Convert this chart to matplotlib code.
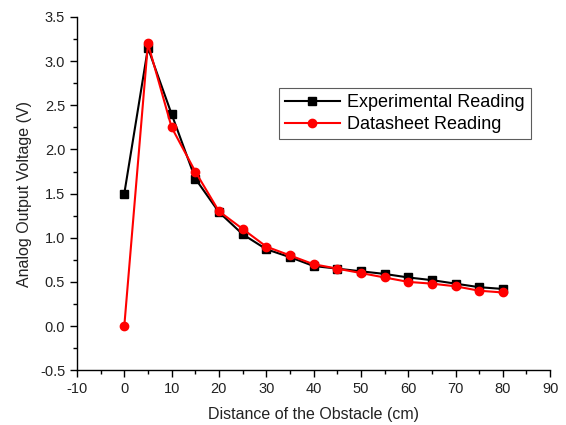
import matplotlib
matplotlib.use("Agg")
import matplotlib.pyplot as plt
from matplotlib.ticker import MultipleLocator

plt.rcParams['font.family'] = ['Liberation Sans', 'DejaVu Sans']
plt.rcParams['axes.unicode_minus'] = False

distance = [0, 5, 10, 15, 20, 25, 30, 35, 40, 45, 50, 55, 60, 65, 70, 75, 80]
experimental = [1.50, 3.15, 2.40, 1.67, 1.29, 1.04, 0.87, 0.78, 0.68, 0.65, 0.62, 0.59, 0.55, 0.52, 0.48, 0.44, 0.42]
datasheet = [0.00, 3.20, 2.25, 1.75, 1.30, 1.10, 0.90, 0.80, 0.70, 0.65, 0.60, 0.55, 0.50, 0.48, 0.45, 0.40, 0.38]

fig = plt.figure(figsize=(5.66, 4.25), dpi=100)
ax = fig.add_axes([0.136, 0.129, 0.836, 0.831])

ax.plot(distance, experimental, color='black', marker='s', markersize=5.5, linewidth=1.5,
        label='Experimental Reading')
ax.plot(distance, datasheet, color='red', marker='o', markersize=6, linewidth=1.5,
        label='Datasheet Reading')

ax.set_xlim(-10, 90)
ax.set_ylim(-0.5, 3.5)
ax.xaxis.set_major_locator(MultipleLocator(10))
ax.xaxis.set_minor_locator(MultipleLocator(5))
ax.yaxis.set_major_locator(MultipleLocator(0.5))
ax.yaxis.set_minor_locator(MultipleLocator(0.25))
ax.yaxis.set_major_formatter(plt.FormatStrFormatter('%.1f'))

for s in ['top', 'right']:
    ax.spines[s].set_visible(False)
for s in ['left', 'bottom']:
    ax.spines[s].set_linewidth(1.0)

ax.tick_params(axis='both', which='major', direction='out', length=5, width=1, labelsize=10.5, colors='black', labelcolor='#222222')
ax.tick_params(axis='both', which='minor', direction='out', length=3, width=1)

ax.set_xlabel('Distance of the Obstacle (cm)', fontsize=11.5, color='#222222', labelpad=8)
ax.set_ylabel('Analog Output Voltage (V)', fontsize=11.5, color='#222222', labelpad=6)

leg = ax.legend(loc='upper left', bbox_to_anchor=(0.427, 0.799), borderaxespad=0, fontsize=13,
                frameon=True, fancybox=False, edgecolor='#333333', handlelength=3.0,
                borderpad=0.35, labelspacing=0.25, handletextpad=0.4)
leg.get_frame().set_linewidth(0.8)

fig.savefig('out.png', dpi=100)
